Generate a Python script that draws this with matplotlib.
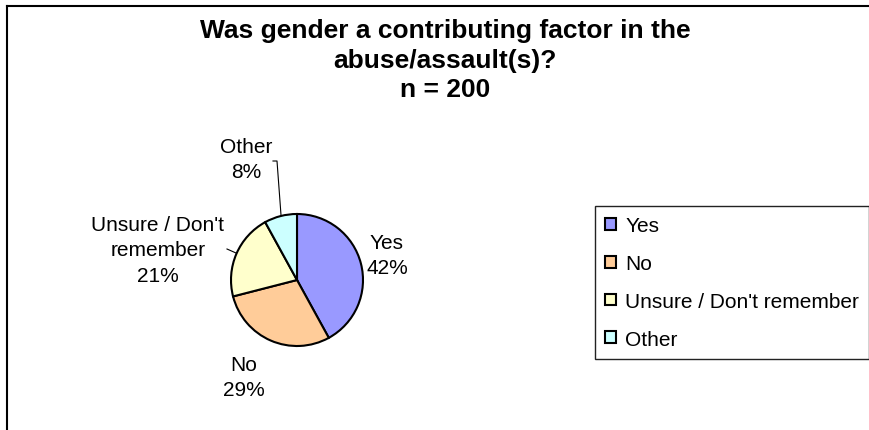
import matplotlib.pyplot as plt
from matplotlib.lines import Line2D

# ======================
# DATA
# ======================

categories = ["Yes", "No", "Unsure / Don't remember", "Other"]
pie_labels = ["Yes", "No", "Unsure / Don't\nremember", "Other"]
percents = [42, 29, 21, 8]
colors = ["#9999FF", "#FFCC99", "#FFFFCC", "#CCFFFF"]
n_total = 200
title = "Was gender a contributing factor in the\nabuse/assault(s)?\nn = %d" % n_total

# label centres in pixel coords (x, y from top)
label_pos = [(387, 256), (244, 378), (158, 251), (246, 160)]

W, H = 870, 431
FONT = "Liberation Sans"

# ======================
# PLOTTING
# ======================

fig = plt.figure(figsize=(W / 100, H / 100), dpi=100)
ax = fig.add_axes([0, 0, 1, 1])

wedges, _ = ax.pie(
    percents,
    colors=colors,
    startangle=90,
    counterclock=False,
    center=(297, H - 281),
    radius=66,
    wedgeprops={"edgecolor": "black", "linewidth": 1.5},
)

ax.set_xlim(0, W)
ax.set_ylim(0, H)
ax.set_aspect("auto")
ax.axis("off")

for lab, pct, (lx, ly) in zip(pie_labels, percents, label_pos):
    ax.text(lx, H - ly, f"{lab}\n{pct}%", ha="center", va="center",
            fontsize=15, family=FONT, linespacing=1.45)

# leader lines for the small slices
ax.add_line(Line2D([236, 227], [H - 254, H - 250], color="black", lw=0.8))
ax.add_line(Line2D([281, 277, 273], [H - 216, H - 162, H - 162], color="black", lw=0.8))

ax.text(445, H - 19, title, ha="center", va="top", fontsize=19,
        fontweight="bold", family=FONT, linespacing=1.3)

leg = ax.legend(
    wedges, categories,
    loc="upper left",
    bbox_to_anchor=(595 / W, 1 - 207 / H),
    bbox_transform=fig.transFigure,
    prop={"family": FONT, "size": 15},
    frameon=True, fancybox=False, framealpha=1,
    borderaxespad=0, borderpad=0.5,
    handlelength=0.5, handleheight=0.5, handletextpad=0.45,
    labelspacing=0.9,
)
leg.get_frame().set_edgecolor("#222222")
leg.get_frame().set_linewidth(1.0)

# partial chart-area border (top and left)
fig.add_artist(Line2D([7 / W, 1], [1 - 7 / H, 1 - 7 / H], transform=fig.transFigure,
                      color="black", lw=1.5))
fig.add_artist(Line2D([7 / W, 7 / W], [0, 1 - 7 / H], transform=fig.transFigure,
                      color="black", lw=1.5))

fig.savefig("out.png", dpi=100)
